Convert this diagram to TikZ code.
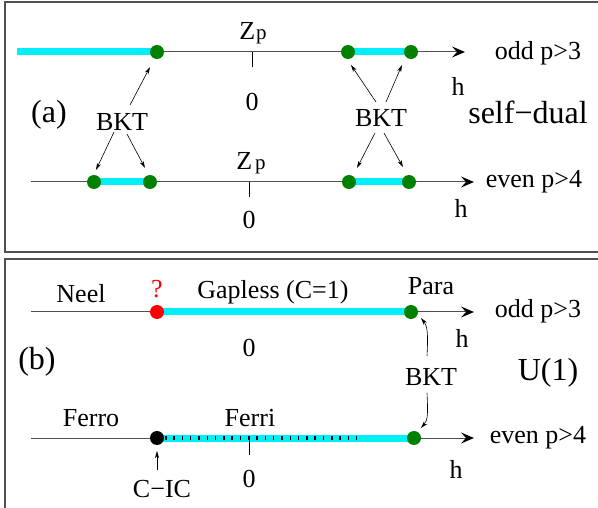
\documentclass[tikz,border=0pt]{standalone}
\usepackage{fontspec}
\setmainfont{Liberation Serif}
\usetikzlibrary{arrows.meta,calc}
\definecolor{bandcyan}{RGB}{0,240,250}
\definecolor{dotgreen}{RGB}{0,128,0}
\definecolor{axisgray}{RGB}{80,80,80}
\begin{document}
\begin{tikzpicture}[x=1pt,y=-1pt,
  frame/.style={draw=axisgray,line width=1.5pt},
  axis/.style={draw=axisgray,line width=1pt,-{Stealth[length=13pt,width=11pt,inset=5pt,line width=1.5pt,color=black]}},
  band/.style={draw=bandcyan,line width=7pt},
  dotg/.style={circle,fill=dotgreen,inner sep=0pt,minimum size=14pt},
  txt/.style={inner sep=0pt,font=\fontsize{26}{30}\selectfont},
  big/.style={inner sep=0pt,font=\fontsize{32}{36}\selectfont},
  thinarrow/.style={line width=0.6pt,-{Stealth[length=7pt,width=4pt,inset=2pt]}},
  tickline/.style={line width=1pt}]
\useasboundingbox (0,0) rectangle (598,508);
\begin{scope}
\clip (0,0) rectangle (598,508);
\draw[frame] (5,2) rectangle (605,252);
\draw[frame] (5,259) rectangle (605,515);
\end{scope}
% ---------- panel (a) ----------
\coordinate (aL) at (17,52);
\coordinate (aR) at (465,52);
\coordinate (A1) at (157,52);
\coordinate (A2) at (348,52);
\coordinate (A3) at (411,52);
\draw[axis] (aL) -- (aR);
\draw[band] (aL) -- (A1);
\draw[band] (A2) -- (A3);
\node[dotg] (dA1) at (A1) {};
\node[dotg] (dA2) at (A2) {};
\node[dotg] (dA3) at (A3) {};
\coordinate (tA) at (252,52);
\coordinate (tAb) at (252,67);
\draw[tickline] (tA) -- (tAb);
\node[txt] (zpA) at (253,33) {Z\kern1pt{\fontsize{21}{24}\selectfont p}};
\node[txt] (zeroA) at (252,102) {0};
\node[txt] (oddA) at (538,53) {odd p>3};
\node[txt] (hA) at (458,86) {h};
\node[big] (sd) at (528,112) {self−dual};
\node[big] (labA) at (49,115) {(a)};

\coordinate (bL) at (31,182);
\coordinate (bR) at (474,182);
\coordinate (B1) at (94,182);
\coordinate (B2) at (150,182);
\coordinate (B3) at (349,182);
\coordinate (B4) at (409,182);
\draw[axis] (bL) -- (bR);
\draw[band] (B1) -- (B2);
\draw[band] (B3) -- (B4);
\node[dotg] (dB1) at (B1) {};
\node[dotg] (dB2) at (B2) {};
\node[dotg] (dB3) at (B3) {};
\node[dotg] (dB4) at (B4) {};
\coordinate (tB) at (249,182);
\coordinate (tBb) at (249,197);
\draw[tickline] (tB) -- (tBb);
\node[txt] (zpB) at (251,163) {Z\kern3pt{\fontsize{21}{24}\selectfont p}};
\node[txt] (zeroB) at (249,220) {0};
\node[txt] (evenB) at (534,182) {even p>4};
\node[txt] (hB) at (461,208) {h};

\node[txt] (bktL) at (122,122) {BKT};
\node[txt] (bktR) at (381,118) {BKT};
\coordinate (sL1) at (130,105);
\coordinate (sL2) at (114,132);
\coordinate (sL3) at (127,134);
\coordinate (eL1) at (150,67);
\coordinate (eL2) at (96,170);
\coordinate (eL3) at (145,168);
\coordinate (sR1) at (376,102);
\coordinate (sR2) at (386,102);
\coordinate (sR3) at (375,133);
\coordinate (sR4) at (384,133);
\coordinate (eR1) at (351,65);
\coordinate (eR2) at (402,65);
\coordinate (eR3) at (357,168);
\coordinate (eR4) at (403,167);
\draw[thinarrow] (sL1) -- (eL1);
\draw[thinarrow] (sL2) -- (eL2);
\draw[thinarrow] (sL3) -- (eL3);
\draw[thinarrow] (sR1) -- (eR1);
\draw[thinarrow] (sR2) -- (eR2);
\draw[thinarrow] (sR3) -- (eR3);
\draw[thinarrow] (sR4) -- (eR4);

% ---------- panel (b) ----------
\coordinate (cL) at (31,312);
\coordinate (cR) at (474,312);
\coordinate (C1) at (157,312);
\coordinate (C2) at (411,312);
\draw[axis] (cL) -- (cR);
\draw[band] (C1) -- (C2);
\node[circle,fill=red,inner sep=0pt,minimum size=14pt] (dC1) at (C1) {};
\node[dotg] (dC2) at (C2) {};
\node[txt] (neel) at (81,294) {Neel};
\node[txt,text=red] (qm) at (157,289) {?};
\node[txt] (gapless) at (273,292) {Gapless (C=1)};
\node[txt] (para) at (431,286) {Para};
\node[txt] (oddC) at (538,311) {odd p>3};
\node[txt] (hC) at (462,338) {h};
\node[txt] (zeroC) at (249,348) {0};
\node[big] (labB) at (37,362) {(b)};
\node[big] (u1) at (548,373) {U(1)};
\node[txt] (bktB) at (431,377) {BKT};

\coordinate (dL) at (31,438);
\coordinate (dR) at (474,438);
\coordinate (D1) at (157,438);
\coordinate (D2) at (414,438);
\draw[axis] (dL) -- (dR);
\draw[band] (D1) -- (D2);
\draw[line width=3.5pt,dash pattern=on 1.5pt off 6.8pt] (165,438) -- (357,438);
\node[circle,fill=black,inner sep=0pt,minimum size=14pt] (dD1) at (D1) {};
\node[dotg] (dD2) at (D2) {};
\coordinate (tD) at (249,438);
\coordinate (tDb) at (249,455);
\draw[tickline] (tD) -- (tDb);
\node[txt] (ferro) at (91,418) {Ferro};
\node[txt] (ferri) at (250,418) {Ferri};
\node[txt] (zeroD) at (249,479) {0};
\node[txt] (cic) at (162,489) {C−IC};
\node[txt] (evenD) at (538,438) {even p>4};
\node[txt] (hD) at (456,469) {h};

\coordinate (cicS) at (157,470);
\coordinate (cicTip) at (157,451);
\draw[thinarrow] (cicS) -- (cicTip);
\coordinate (bkS1) at (427,356);
\coordinate (bkS2) at (427,393);
\coordinate (bkE1) at (421,318);
\coordinate (bkE2) at (421,428);
\draw[thinarrow] (bkS1) .. controls (428,336) and (428,327) .. (bkE1);
\draw[thinarrow] (bkS2) .. controls (428,413) and (428,420) .. (bkE2);
\end{tikzpicture}
\end{document}
